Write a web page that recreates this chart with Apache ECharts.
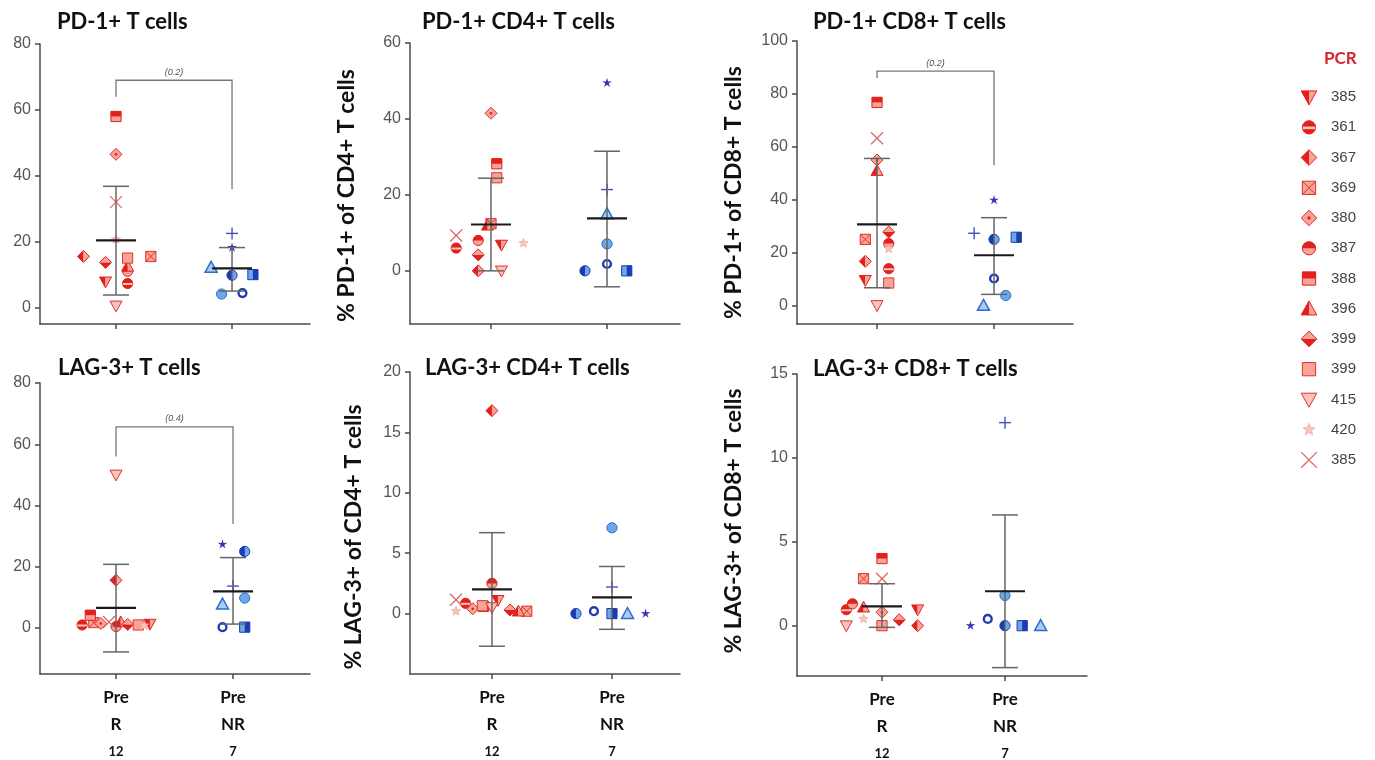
<!DOCTYPE html>
<html>
<head>
<meta charset="utf-8">
<script src="https://cdn.jsdelivr.net/npm/echarts@6/dist/echarts.min.js"></script>
<style>
html, body { margin: 0; padding: 0; background: #fff; }
#main { width: 1375px; height: 760px; }
</style>
</head>
<body>
<div id="main"></div>
<script>
var chart = echarts.init(document.getElementById('main'));

// patients of the R group, in legend order, and the symbol each one uses
var legendLabels = ['385', '361', '367', '369', '380', '387', '388', '396', '399', '399', '415', '420', '385'];
var shapesR = ['triDownHalf', 'circleLips', 'diamondLeft', 'squareX', 'diamondDot', 'circleTop', 'squareTop',
    'triUpHalf', 'diamondBottom', 'square', 'triDown', 'star', 'cross'];
// NR group symbols
var shapesNR = ['triUp', 'ring', 'circle', 'circleLeft', 'squareRight', 'plus', 'asterisk'];

var groupNames = ['R', 'NR'];
var groupN = ['12', '7'];
var timepoint = 'Pre';

var panelTitles = ['PD-1+ T cells', 'PD-1+ CD4+ T cells', 'PD-1+ CD8+ T cells',
    'LAG-3+ T cells', 'LAG-3+ CD4+ T cells', 'LAG-3+ CD8+ T cells'];
var yNames = ['', '% PD-1+ of CD4+ T cells', '% PD-1+ of CD8+ T cells',
    '', '% LAG-3+ of CD4+ T cells', '% LAG-3+ of CD8+ T cells'];
var yTicks = [[0, 20, 40, 60, 80], [0, 20, 40, 60], [0, 20, 40, 60, 80, 100],
    [0, 20, 40, 60, 80], [0, 5, 10, 15, 20], [0, 5, 10, 15]];

// values; jitter = horizontal spread in category units
var pd1R = [7.8, 7.3, 15.5, 15.5, 46.5, 11, 58, 12.5, 13.7, 15, 0.5, 20.7, 32];
var pd1RJit = [-0.09, 0.1, -0.28, 0.3, 0, 0.1, 0, 0.1, -0.09, 0.1, 0, 0, 0];
var pd1NR = [12.2, 4.4, 4.1, 9.8, 10, 22.5, 18.2];
var pd1NRJit = [-0.18, 0.09, -0.09, 0, 0.18, 0, 0];
var pd1Stats = [[20.4, 36.8, 3.8], [11.9, 18.2, 5.0]];   // mean, mean+SD, mean-SD
var pd1Bracket = [69, 64, 36, '(0.2)'];

var cd4R = [6.8, 6.0, 0, 12.4, 41.5, 8, 28.2, 12, 4.2, 24.5, 0, 7.3, 9.3];
var cd4RJit = [0.09, -0.3, -0.11, 0, 0, -0.11, 0.05, -0.03, -0.11, 0.05, 0.09, 0.28, -0.3];
var cd4NR = [15, 1.8, 7.1, 0, 0, 21.4, 49.5];
var cd4NRJit = [0, 0, 0, -0.19, 0.17, 0, 0];
var cd4Stats = [[12.2, 24.4, 0], [13.8, 31.5, -4.2]];

var cd8R = [9.5, 13.9, 16.7, 25, 55, 23.4, 76.8, 51, 27.8, 8.5, 0, 21.5, 63.2];
var cd8RJit = [-0.1, 0.1, -0.1, -0.1, 0, 0.1, 0, 0, 0.1, 0.1, 0, 0.1, 0];
var cd8NR = [0, 10.2, 3.8, 25, 25.8, 27.3, 39.8];
var cd8NRJit = [-0.09, 0, 0.1, 0, 0.19, -0.17, 0];
var cd8Stats = [[30.7, 55.6, 6.7], [19, 33.2, 4.2]];
var cd8Bracket = [88.6, 86, 53, '(0.2)'];

var lagR = [1.3, 1, 15.6, 1.8, 1.5, 0.5, 4.2, 2, 1.2, 1, 50, 0.8, 2];
var lagRJit = [0.29, -0.29, 0, -0.19, -0.13, 0, -0.22, 0.04, 0.1, 0.19, 0, 0.24, -0.06];
var lagNR = [7.8, 0.3, 9.8, 25, 0.3, 13.7, 27.3];
var lagNRJit = [-0.09, -0.09, 0.1, 0.1, 0.1, 0, -0.09];
var lagStats = [[6.6, 20.8, -7.8], [12, 23, 1.3]];
var lagBracket = [65.7, 56, 34, '(0.4)'];

var lagCd4R = [1.1, 0.85, 16.8, 0.2, 0.4, 2.5, 0.6, 0.2, 0.3, 0.65, 0.5, 0.2, 1.15];
var lagCd4RJit = [0.05, -0.22, 0, 0.29, -0.16, 0, -0.07, 0.22, 0.15, -0.08, 0, -0.3, -0.3];
var lagCd4NR = [0, 0.2, 7.1, 0, 0, 2.2, 0];
var lagCd4NRJit = [0.13, -0.15, 0, -0.3, 0, 0, 0.28];
var lagCd4Stats = [[2.0, 6.7, -2.7], [1.35, 3.9, -1.3]];

var lagCd8R = [0.95, 0.95, 0, 2.8, 0.8, 1.3, 4.0, 1.1, 0.35, 0, 0, 0.4, 2.8];
var lagCd8RJit = [0.29, -0.29, 0.29, -0.15, 0, -0.24, 0, -0.15, 0.14, 0, -0.29, -0.15, 0];
var lagCd8NR = [0, 0.4, 1.8, 0, 0, 12.1, 0];
var lagCd8NRJit = [0.29, -0.14, 0, 0, 0.14, 0, -0.28];
var lagCd8Stats = [[1.15, 2.5, -0.1], [2.05, 6.6, -2.5]];

var valsR = [pd1R, cd4R, cd8R, lagR, lagCd4R, lagCd8R];
var jitR = [pd1RJit, cd4RJit, cd8RJit, lagRJit, lagCd4RJit, lagCd8RJit];
var valsNR = [pd1NR, cd4NR, cd8NR, lagNR, lagCd4NR, lagCd8NR];
var jitNR = [pd1NRJit, cd4NRJit, cd8NRJit, lagNRJit, lagCd4NRJit, lagCd8NRJit];
var stats = [pd1Stats, cd4Stats, cd8Stats, lagStats, lagCd4Stats, lagCd8Stats];
var brackets = [pd1Bracket, null, cd8Bracket, lagBracket, null, null];

// panel placement (pixels) and axis ranges
var layout = [
    {left: 40, top: 44, width: 270, height: 280, xMin: 0.345, xMax: 2.672, yMin: -5, yMax: 80, gap: 0, pad: [0, 0, 0, 0]},
    {left: 410, top: 43, width: 270, height: 281, xMin: 0.302, xMax: 2.629, yMin: -14, yMax: 60, gap: 52, pad: [0, 24, 0, 0]},
    {left: 797, top: 41, width: 276, height: 283, xMin: 0.316, xMax: 2.675, yMin: -7, yMax: 100, gap: 52, pad: [0, 20, 0, 0]},
    {left: 40, top: 383, width: 270, height: 291, xMin: 0.350, xMax: 2.658, yMin: -15, yMax: 80, gap: 0, pad: [0, 0, 0, 0]},
    {left: 410, top: 372, width: 270, height: 302, xMin: 0.317, xMax: 2.567, yMin: -5, yMax: 20, gap: 45, pad: [0, 28, 0, 0]},
    {left: 797, top: 374, width: 290, height: 302, xMin: 0.309, xMax: 2.667, yMin: -3, yMax: 15, gap: 52, pad: [0, 0, 0, 8]}
];
var titlePos = [[52, 6], [417, 6], [808, 6], [53, 352], [420, 352], [808, 353]];

var RED = {dark: '#e2211c', light: '#f6a498', line: '#e0332b', pale: '#f9c4bc'};
var BLUE = {dark: '#1d3bb3', light: '#6aa8e9', line: '#2d6dd0', pale: '#a9cdf3'};

function poly(pts, fill, stroke, lw) {
    return {type: 'polygon', shape: {points: pts},
        style: {fill: fill, stroke: stroke || 'none', lineWidth: lw || 0}};
}
function seg(x1, y1, x2, y2, color, lw) {
    return {type: 'line', shape: {x1: x1, y1: y1, x2: x2, y2: y2}, style: {stroke: color, lineWidth: lw}};
}
function starPts(x, y, ro, ri) {
    var pts = [];
    for (var i = 0; i < 10; i++) {
        var r = i % 2 ? ri : ro;
        var a = -Math.PI / 2 + i * Math.PI / 5;
        pts.push([x + r * Math.cos(a), y + r * Math.sin(a)]);
    }
    return pts;
}

// GraphPad-like symbols, built from small shapes
function drawShape(kind, x, y, k) {
    var h = 6 * k, el = [];
    var R = RED, B = BLUE;
    switch (kind) {
        case 'triDownHalf':
            el.push(poly([[x - h, y - h * 0.8], [x, y - h * 0.8], [x, y + h]], R.dark));
            el.push(poly([[x, y - h * 0.8], [x + h, y - h * 0.8], [x, y + h]], R.light));
            el.push(poly([[x - h, y - h * 0.8], [x + h, y - h * 0.8], [x, y + h]], 'none', R.dark, 1));
            break;
        case 'circleLips':
            el.push({type: 'circle', shape: {cx: x, cy: y, r: h * 0.85}, style: {fill: R.dark, stroke: R.dark, lineWidth: 1}});
            el.push(seg(x - h * 0.8, y + 0.5, x + h * 0.8, y + 0.5, R.pale, 2 * k));
            break;
        case 'diamondLeft':
            el.push(poly([[x, y - h], [x, y + h], [x - h, y]], R.dark));
            el.push(poly([[x, y - h], [x + h, y], [x, y + h]], R.light));
            el.push(poly([[x, y - h], [x + h, y], [x, y + h], [x - h, y]], 'none', R.dark, 1));
            break;
        case 'squareX':
            el.push({type: 'rect', shape: {x: x - h * 0.85, y: y - h * 0.85, width: h * 1.7, height: h * 1.7},
                style: {fill: R.light, stroke: R.line, lineWidth: 1}});
            el.push(seg(x - h * 0.85, y - h * 0.85, x + h * 0.85, y + h * 0.85, R.line, 1));
            el.push(seg(x - h * 0.85, y + h * 0.85, x + h * 0.85, y - h * 0.85, R.line, 1));
            break;
        case 'diamondDot':
            el.push(poly([[x, y - h], [x + h, y], [x, y + h], [x - h, y]], R.light, R.line, 1));
            el.push({type: 'circle', shape: {cx: x, cy: y, r: 1.3 * k}, style: {fill: R.dark}});
            break;
        case 'circleTop':
            el.push({type: 'circle', shape: {cx: x, cy: y, r: h * 0.85}, style: {fill: R.light, stroke: R.dark, lineWidth: 1}});
            el.push({type: 'sector', shape: {cx: x, cy: y, r: h * 0.85, r0: 0, startAngle: Math.PI, endAngle: Math.PI * 2, clockwise: true},
                style: {fill: R.dark}});
            break;
        case 'squareTop':
            el.push({type: 'rect', shape: {x: x - h * 0.85, y: y - h * 0.85, width: h * 1.7, height: h * 1.7},
                style: {fill: R.light, stroke: R.dark, lineWidth: 1}});
            el.push({type: 'rect', shape: {x: x - h * 0.85, y: y - h * 0.85, width: h * 1.7, height: h * 0.85},
                style: {fill: R.dark}});
            break;
        case 'triUpHalf':
            el.push(poly([[x, y - h], [x, y + h * 0.8], [x - h, y + h * 0.8]], R.dark));
            el.push(poly([[x, y - h], [x + h, y + h * 0.8], [x, y + h * 0.8]], R.light));
            el.push(poly([[x, y - h], [x + h, y + h * 0.8], [x - h, y + h * 0.8]], 'none', R.dark, 1));
            break;
        case 'diamondBottom':
            el.push(poly([[x, y - h], [x + h, y], [x - h, y]], R.light));
            el.push(poly([[x - h, y], [x + h, y], [x, y + h]], R.dark));
            el.push(poly([[x, y - h], [x + h, y], [x, y + h], [x - h, y]], 'none', R.dark, 1));
            break;
        case 'square':
            el.push({type: 'rect', shape: {x: x - h * 0.85, y: y - h * 0.85, width: h * 1.7, height: h * 1.7},
                style: {fill: R.light, stroke: R.line, lineWidth: 1}});
            break;
        case 'triDown':
            el.push(poly([[x - h, y - h * 0.8], [x + h, y - h * 0.8], [x, y + h]], R.pale, R.line, 1));
            break;
        case 'star':
            el.push(poly(starPts(x, y, h * 0.8, h * 0.35), R.pale, '#f3a89f', 0.8));
            break;
        case 'cross':
            el.push(seg(x - h, y - h, x + h, y + h, '#dd6a6a', 1.3));
            el.push(seg(x - h, y + h, x + h, y - h, '#dd6a6a', 1.3));
            break;
        case 'triUp':
            el.push(poly([[x, y - h], [x + h, y + h * 0.8], [x - h, y + h * 0.8]], B.pale, B.line, 1.5));
            break;
        case 'ring':
            el.push({type: 'circle', shape: {cx: x, cy: y, r: h * 0.65}, style: {fill: '#fff', stroke: B.dark, lineWidth: 2.4}});
            break;
        case 'circle':
            el.push({type: 'circle', shape: {cx: x, cy: y, r: h * 0.85}, style: {fill: B.light, stroke: B.line, lineWidth: 1}});
            break;
        case 'circleLeft':
            el.push({type: 'circle', shape: {cx: x, cy: y, r: h * 0.85}, style: {fill: B.light, stroke: B.dark, lineWidth: 1}});
            el.push({type: 'sector', shape: {cx: x, cy: y, r: h * 0.85, r0: 0, startAngle: Math.PI / 2, endAngle: Math.PI * 1.5, clockwise: true},
                style: {fill: B.dark}});
            break;
        case 'squareRight':
            el.push({type: 'rect', shape: {x: x - h * 0.85, y: y - h * 0.85, width: h * 1.7, height: h * 1.7},
                style: {fill: B.light, stroke: B.dark, lineWidth: 1}});
            el.push({type: 'rect', shape: {x: x, y: y - h * 0.85, width: h * 0.85, height: h * 1.7}, style: {fill: B.dark}});
            break;
        case 'plus':
            el.push(seg(x - h, y, x + h, y, '#4a4fc6', 1.4));
            el.push(seg(x, y - h, x, y + h, '#4a4fc6', 1.4));
            break;
        case 'asterisk':
            el.push(poly(starPts(x, y, h * 0.85, h * 0.3), '#3434b4'));
            break;
    }
    return el;
}

function renderPoints(shapes) {
    return function (params, api) {
        var p = api.coord([api.value(0), api.value(1)]);
        return {type: 'group', children: drawShape(shapes[api.value(2)], p[0], p[1], 1)};
    };
}

function renderBars(params, api) {
    var c = api.value(0);
    var m = api.coord([c, api.value(1)]);
    var u = api.coord([c, api.value(2)]);
    var l = api.coord([c, api.value(3)]);
    var x = m[0];
    var sd = '#666';
    return {type: 'group', children: [
        seg(x, u[1], x, l[1], sd, 1.5),
        seg(x - 13, u[1], x + 13, u[1], sd, 1.5),
        seg(x - 13, l[1], x + 13, l[1], sd, 1.5),
        seg(x - 20, m[1], x + 20, m[1], '#1a1a1a', 2.2)
    ]};
}

function renderBracket(pText) {
    return function (params, api) {
        var a = api.coord([1, api.value(1)]);
        var t1 = api.coord([1, api.value(0)]);
        var t2 = api.coord([2, api.value(0)]);
        var b = api.coord([2, api.value(2)]);
        return {type: 'group', children: [
            {type: 'polyline', shape: {points: [a, t1, t2, b]}, style: {stroke: '#777', lineWidth: 1.3, fill: 'none'}},
            {type: 'text', style: {text: pText, x: (t1[0] + t2[0]) / 2, y: t1[1] - 8,
                textAlign: 'center', textVerticalAlign: 'middle',
                fontSize: 9, fontStyle: 'italic', fontFamily: 'Liberation Sans', fill: '#555'}}
        ]};
    };
}

var grids = [], xAxes = [], yAxes = [], series = [], titles = [];

for (var p = 0; p < 6; p++) {
    var L = layout[p];
    var bottomRow = p >= 3;
    grids.push({left: L.left, top: L.top, width: L.width, height: L.height});
    titles.push({
        text: panelTitles[p], left: titlePos[p][0], top: titlePos[p][1],
        textStyle: {fontFamily: 'Lato', fontWeight: 'bold', fontSize: 22, color: '#111'}
    });
    xAxes.push({
        type: 'value', gridIndex: p, min: L.xMin, max: L.xMax,
        splitLine: {show: false},
        axisLine: {show: true, onZero: false, lineStyle: {color: '#4a4a4a', width: 1.5}},
        axisTick: {show: true, customValues: [1, 2], length: 5, lineStyle: {color: '#4a4a4a', width: 1.5}},
        axisLabel: {
            show: bottomRow, customValues: [1, 2], margin: 10,
            formatter: function (v) {
                var g = Math.round(v) - 1;
                return '{a|' + timepoint + '}\n{a|' + groupNames[g] + '}\n{c|' + groupN[g] + '}';
            },
            rich: {
                a: {fontFamily: 'Lato', fontWeight: 'bold', fontSize: 17, color: '#111', lineHeight: 27},
                c: {fontFamily: 'Lato', fontWeight: 'bold', fontSize: 13, color: '#111', lineHeight: 27}
            }
        }
    });
    yAxes.push({
        type: 'value', gridIndex: p, min: L.yMin, max: L.yMax,
        name: yNames[p], nameLocation: 'middle', nameRotate: 90, nameGap: L.gap,
        nameTextStyle: {fontFamily: 'Lato', fontWeight: 'bold', fontSize: 23, color: '#111', padding: L.pad},
        splitLine: {show: false},
        axisLine: {show: true, onZero: false, lineStyle: {color: '#4a4a4a', width: 1.5}},
        axisTick: {show: true, customValues: yTicks[p], length: 5, lineStyle: {color: '#4a4a4a', width: 1.5}},
        axisLabel: {customValues: yTicks[p], margin: 9, fontFamily: 'Liberation Sans', fontSize: 16, color: '#555'}
    });

    var dR = [], dNR = [];
    valsR[p].forEach(function (v, i) { if (v != null) dR.push([1 + jitR[p][i], v, i]); });
    valsNR[p].forEach(function (v, i) { if (v != null) dNR.push([2 + jitNR[p][i], v, i]); });

    series.push({type: 'custom', xAxisIndex: p, yAxisIndex: p, z: 2, renderItem: renderPoints(shapesR), data: dR});
    series.push({type: 'custom', xAxisIndex: p, yAxisIndex: p, z: 2, renderItem: renderPoints(shapesNR), data: dNR});
    series.push({
        type: 'custom', xAxisIndex: p, yAxisIndex: p, z: 3, renderItem: renderBars,
        data: stats[p].map(function (s, g) { return [g + 1, s[0], s[1], s[2]]; })
    });
    if (brackets[p]) {
        series.push({
            type: 'custom', xAxisIndex: p, yAxisIndex: p, z: 3,
            renderItem: renderBracket(brackets[p][3]),
            data: [[brackets[p][0], brackets[p][1], brackets[p][2]]]
        });
    }
}

// legend: a small grid whose category axis carries the patient labels
grids.push({left: 1299, top: 82, width: 20, height: 393});
xAxes.push({type: 'value', gridIndex: 6, min: 0, max: 1, show: false});
yAxes.push({
    type: 'category', gridIndex: 6, inverse: true, position: 'right',
    data: legendLabels.map(function (l, i) { return String(i); }),
    axisLine: {show: false}, axisTick: {show: false}, splitLine: {show: false},
    axisLabel: {
        margin: 12, fontFamily: 'Liberation Sans', fontSize: 15, color: '#444',
        formatter: function (v, idx) { return legendLabels[idx]; }
    }
});
series.push({
    type: 'custom', xAxisIndex: 6, yAxisIndex: 6,
    renderItem: function (params, api) {
        var pt = api.coord([0.5, api.value(1)]);
        return {type: 'group', children: drawShape(shapesR[api.value(2)], pt[0], pt[1], 1.3)};
    },
    data: legendLabels.map(function (l, i) { return [0.5, i, i]; })
});
titles.push({
    text: 'PCR', left: 1319, top: 45,
    textStyle: {fontFamily: 'Lato', fontWeight: 'bold', fontSize: 17, color: '#d6242b'}
});

var option = {
    backgroundColor: '#fff',
    animation: false,
    title: titles,
    grid: grids,
    xAxis: xAxes,
    yAxis: yAxes,
    series: series
};
chart.setOption(option);
</script>
</body>
</html>
